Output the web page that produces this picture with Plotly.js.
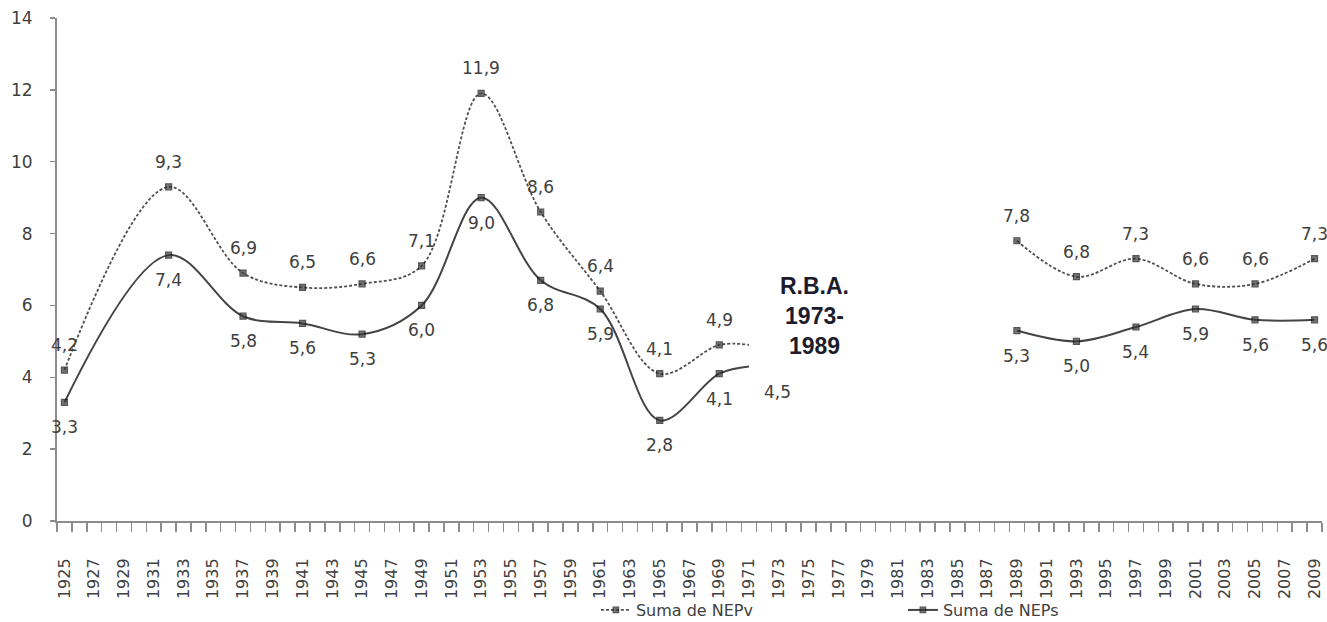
<!DOCTYPE html>
<html>
<head>
<meta charset="utf-8">
<script src="https://cdn.plot.ly/plotly-3.0.1.min.js"></script>
<style>html,body{margin:0;padding:0;background:#fff;}#chart{width:1327px;height:622px;}</style>
</head>
<body>
<div id="chart"></div>
<script>
// ---- data ----
const yearsA = [1925, 1932, 1937, 1941, 1945, 1949, 1953, 1957, 1961, 1965, 1969, 1971];
const nepvA  = [4.2, 9.3, 6.9, 6.5, 6.6, 7.1, 11.9, 8.6, 6.4, 4.1, 4.9, 4.9];
const nepsA  = [3.3, 7.4, 5.7, 5.5, 5.2, 6.0, 9.0, 6.7, 5.9, 2.8, 4.1, 4.3];
const nepvLabelsA = ['4,2','9,3','6,9','6,5','6,6','7,1','11,9','8,6','6,4','4,1','4,9',''];
const nepsLabelsA = ['3,3','7,4','5,8','5,6','5,3','6,0','9,0','6,8','5,9','2,8','4,1',''];
const yearsB = [1989, 1993, 1997, 2001, 2005, 2009];
const nepvB  = [7.8, 6.8, 7.3, 6.6, 6.6, 7.3];
const nepsB  = [5.3, 5.0, 5.4, 5.9, 5.6, 5.6];
const nepvLabelsB = ['7,8','6,8','7,3','6,6','6,6','7,3'];
const nepsLabelsB = ['5,3','5,0','5,4','5,9','5,6','5,6'];
const seriesNames = ['Suma de NEPv', 'Suma de NEPs'];
const strayLabel = '4,5';
const strayLabelYear = 1972.9;
const strayLabelValue = 3.6;
const gapLabel = 'R.B.A.<br>1973-<br>1989';
const gapLabelYear = 1975.4;
const gapLabelValue = 5.7;
const firstYear = 1925, lastYear = 2009;

// ---- styling ----
const txtColor = '#404040';
const axisColor = '#8c8c8c';
const font = 'DejaVu Sans, sans-serif';

function markerSizes(years, endless) {
  return years.map((y, i) => (endless && i === years.length - 1) ? 0 : 6);
}

const dottedLine = {color: '#505050', width: 1.8, dash: '3px,2px', shape: 'spline', smoothing: 1};
const solidLine  = {color: '#444444', width: 2, shape: 'spline', smoothing: 1};
const mk = (sizes) => ({symbol: 'square', size: sizes, color: '#3a3a3a', line: {color: '#111', width: 1.2}});

const traces = [
  {x: yearsA, y: nepvA, type: 'scatter', mode: 'lines+markers', name: seriesNames[0], legendgroup: 'v',
   line: dottedLine, marker: mk(markerSizes(yearsA, true)), hoverinfo: 'skip'},
  {x: yearsB, y: nepvB, type: 'scatter', mode: 'lines+markers', name: seriesNames[0], legendgroup: 'v', showlegend: false,
   line: dottedLine, marker: mk(markerSizes(yearsB, false)), hoverinfo: 'skip'},
  {x: yearsA, y: nepsA, type: 'scatter', mode: 'lines+markers', name: seriesNames[1], legendgroup: 's',
   line: solidLine, marker: mk(markerSizes(yearsA, true)), hoverinfo: 'skip'},
  {x: yearsB, y: nepsB, type: 'scatter', mode: 'lines+markers', name: seriesNames[1], legendgroup: 's', showlegend: false,
   line: solidLine, marker: mk(markerSizes(yearsB, false)), hoverinfo: 'skip'}
];

const annotations = [];
function addLabels(xs, ys, labels, shift) {
  xs.forEach((x, i) => {
    if (!labels[i]) return;
    annotations.push({x: x, y: ys[i], xref: 'x', yref: 'y', text: labels[i], showarrow: false,
      yshift: shift, font: {family: font, size: 17, color: txtColor}});
  });
}
addLabels(yearsA, nepvA, nepvLabelsA, 25);
addLabels(yearsB, nepvB, nepvLabelsB, 25);
addLabels(yearsA, nepsA, nepsLabelsA, -25);
addLabels(yearsB, nepsB, nepsLabelsB, -25);
annotations.push({x: strayLabelYear, y: strayLabelValue, xref: 'x', yref: 'y', text: strayLabel, showarrow: false,
  font: {family: font, size: 17, color: txtColor}});
annotations.push({x: gapLabelYear, y: gapLabelValue, xref: 'x', yref: 'y', text: gapLabel, showarrow: false,
  align: 'center', font: {family: 'Liberation Sans, Arial, sans-serif', size: 23, color: '#1c1c2c', weight: 'bold'}});

const tickYears = [];
for (let y = firstYear; y <= lastYear; y += 2) tickYears.push(y);
const minorTicks = [];
for (let y = firstYear - 0.5; y <= lastYear + 0.5; y += 1) minorTicks.push(y);

const layout = {
  width: 1327, height: 622,
  margin: {l: 57, r: 5, t: 18, b: 101, autoexpand: false},
  paper_bgcolor: '#fff', plot_bgcolor: '#fff',
  showlegend: true,
  legend: {orientation: 'h', x: 0.426, xanchor: 'left', y: -0.177, yanchor: 'middle',
    font: {family: font, size: 16, color: txtColor}, entrywidth: 262, entrywidthmode: 'pixels',
    bgcolor: 'rgba(0,0,0,0)', tracegroupgap: 0},
  xaxis: {
    range: [firstYear - 0.5, lastYear + 0.5], tickmode: 'array', tickvals: tickYears, ticktext: tickYears.map(String),
    tickangle: -90, ticks: '', ticklabelstandoff: 29, showgrid: false, zeroline: false, automargin: false,
    showline: true, linecolor: axisColor, linewidth: 2,
    tickfont: {family: font, size: 16, color: txtColor},
    minor: {tickmode: 'array', tickvals: minorTicks, ticks: 'outside', ticklen: 9, tickcolor: axisColor, tickwidth: 1.5, showgrid: false}
  },
  yaxis: {
    range: [0, 14], tickvals: [0, 2, 4, 6, 8, 10, 12, 14], ticks: 'outside', ticklen: 5, tickcolor: axisColor, tickwidth: 1.5,
    showgrid: false, zeroline: false, showline: true, linecolor: axisColor, linewidth: 2, automargin: false,
    ticklabelstandoff: 14, tickfont: {family: font, size: 17, color: txtColor}
  },
  annotations: annotations
};

Plotly.newPlot('chart', traces, layout, {staticPlot: true, displayModeBar: false});
</script>
</body>
</html>
